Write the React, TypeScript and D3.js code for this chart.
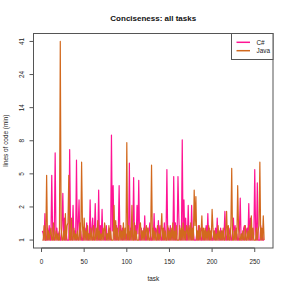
import React from "react";
import * as d3 from "d3";

const title = "Conciseness: all tasks";
const xLabel = "task";
const yLabel = "lines of code (min)";
const seriesNames = ["C#", "Java"];
const seriesColors = ["#ff1493", "#d2691e"];
const xTicks = [0, 50, 100, 150, 200, 250];
const yTickLabels = ["1", "2", "5", "8", "14", "24", "41"];

const csharp = [
  1.3, 1.2, 1, 2.0, 1, 1, 1.4, 1, 1.5, 1,
  1, 4.4, 1.3, 1, 1.2, 6.6, 1, 1.4, 1, 1.2,
  1.3, 1, 1, 1.5, 3.1, 1, 1.8, 1, 1.2, 1,
  1, 1, 7, 1.5, 1, 1.2, 2.4, 1, 1.3, 1,
  5.8, 1, 1.5, 2.7, 1, 1.3, 1, 1, 1.2, 1,
  1.4, 1, 1.6, 1, 1.2, 1, 2.7, 1, 1.3, 1.8,
  1, 1.3, 2.5, 1, 1.2, 1, 3.3, 1, 1.5, 1,
  2.2, 1, 1.3, 1, 1, 1.5, 1, 1.2, 1, 1.4,
  1, 9, 1.3, 3.6, 1, 1.2, 1, 1.5, 1, 1.3,
  3.6, 1, 1.5, 1, 1.4, 1, 1.3, 1, 1.2, 1,
  1.3, 1, 5.5, 1, 1.4, 1, 1.2, 4.2, 1, 1.5,
  1, 2.4, 1.2, 4, 1, 1, 1.4, 1, 1.3, 1,
  1.9, 1, 1, 1.4, 1, 1.3, 1.6, 1, 1, 1.2,
  1, 2.0, 1, 1.4, 1.3, 1, 1.7, 1, 1.5, 1,
  1, 1.3, 1, 1.6, 1, 1.2, 4.9, 1, 1.4, 1,
  1.5, 1, 1.3, 1, 4.3, 1, 1.6, 1, 1.2, 4.3,
  1.8, 1, 1.3, 1, 8.3, 1, 2.7, 1, 1.8, 1,
  1, 2.4, 1, 1.4, 1, 2.4, 1, 1.3, 1, 1,
  1, 1.2, 1, 1.5, 1, 1.4, 1, 1, 1.3, 1,
  1.3, 1, 1.5, 1, 2.0, 1, 1.4, 1, 1.2, 1,
  1, 1.3, 1, 1.4, 1, 1.8, 1, 1.2, 1, 1.4,
  1, 1.3, 1, 1.2, 2.1, 1, 1, 1.4, 1, 1.2,
  1.4, 1, 1, 1.3, 1.8, 1, 1.5, 1, 1.2, 1,
  1, 1.3, 2.8, 1, 1.2, 1, 1.4, 1.5, 1, 1.3,
  1.4, 1, 2.5, 1, 1.8, 1, 1.3, 1, 1.2, 4.9,
  1.3, 1, 3.8, 1, 1, 1, 1.5, 1, 1.3, 1, 1,
];

const java = [
  1, 1, 1.5, 1, 1, 4.4, 1, 1.3, 1, 1.2,
  1.4, 1, 1, 1.6, 1, 1, 1.3, 1, 1.2, 1,
  1, 41, 1.4, 1, 1, 1.3, 1, 2.0, 1, 1.5,
  1.6, 4.4, 1, 1, 1.8, 1, 1, 1.4, 1, 1.2,
  1, 1.3, 1, 1, 1.6, 1, 5.6, 1.5, 1, 1.8,
  1, 1.3, 1, 1.5, 1, 1.2, 1, 1.4, 1, 1,
  1.5, 1, 1, 1.4, 1, 1.7, 1, 1.3, 1, 1.2,
  1, 1.4, 1, 1.6, 1.3, 1, 1.2, 1, 1.5, 1,
  1.3, 1, 1, 1, 2.4, 1, 1.7, 1, 1.4, 1,
  1, 1.5, 1, 1.3, 1, 1.6, 1, 1.4, 1, 7.9,
  1, 1.5, 1, 1.3, 1, 2.4, 1, 1, 1.6, 1,
  1.3, 1, 1, 1, 1.5, 1.6, 1, 1.3, 1, 1.4,
  1, 1.3, 1.5, 1, 1.4, 1, 1, 1.2, 5.3, 1,
  1.4, 1, 1.3, 1, 1, 1.5, 1, 1.2, 1, 1.3,
  2.0, 1, 1.4, 1, 1.3, 1, 1, 1.5, 1, 1.3,
  1, 1.4, 1, 1.6, 1, 1.3, 1, 1.5, 1, 1,
  1, 1.5, 1, 1.4, 1, 1.6, 1, 1.3, 1, 1.5,
  1.3, 1, 1.5, 1, 1.6, 1, 1.4, 1, 3.3, 1.5,
  2.9, 1, 1.3, 1, 1.5, 1, 1.2, 1.9, 1, 1.4,
  1, 1.4, 1, 1.3, 1, 1.5, 1, 1.3, 1, 2.2,
  1.4, 1, 1.3, 1, 1.2, 1, 1.5, 1, 1.3, 1,
  1.3, 1, 1.4, 1, 1, 1.3, 2.1, 1, 1.5, 1,
  1, 1.5, 5.0, 1, 1, 1.3, 1, 1.4, 1, 3.6,
  1.4, 1, 1, 1.2, 1, 1.3, 1, 1, 1.5, 1,
  1, 1.3, 1, 1.5, 1, 1.9, 1, 1.4, 1, 1,
  1, 1.4, 1, 1.3, 1.5, 5.6, 1, 1.4, 1, 1.9, 1,
];

const series = [csharp, java];

export default function App() {
  const W = 291, H = 291;
  const left = 33.5, right = 273, top = 33.5, bottom = 248;
  const n = csharp.length;
  const xPad = (n - 1) * 0.04;
  const x = d3.scaleLinear().domain([1 - xPad, n + xPad]).range([left, right]);
  const t = (v: number) => Math.log(v + 1);
  const lo = t(1), hi = t(41);
  const yPad = (hi - lo) * 0.04;
  const y = d3.scaleLinear().domain([lo - yPad, hi + yPad]).range([bottom, top]);
  const yTickPos = yTickLabels.map((_, i) => lo + (i * (hi - lo)) / (yTickLabels.length - 1));
  const line = d3.line<number>().x((_, i) => x(i + 1)).y((v) => y(t(v)));
  const font = "'Liberation Sans', Arial, Helvetica, sans-serif";
  const axisCol = "#555";
  const textCol = "#222";
  const fs = 6.4;
  return (
    <svg width={W} height={H} style={{ position: "absolute", left: 0, top: 0, background: "#fff" }} fontFamily={font}>
      <rect x={0} y={0} width={W} height={H} fill="#fff" />
      <text x={(left + right) / 2} y={20.5} textAnchor="middle" fontSize={8} fontWeight="bold" fill="#111">{title}</text>
      {series.map((s, k) => (
        <path key={k} d={line(s) || ""} fill="none" stroke={seriesColors[k]} strokeWidth={1.2} strokeLinejoin="round" />
      ))}
      <rect x={left} y={top} width={right - left} height={bottom - top} fill="none" stroke={axisCol} strokeWidth={1} />
      {/* x axis */}
      <line x1={x(xTicks[0])} x2={x(xTicks[xTicks.length - 1])} y1={bottom} y2={bottom} stroke={axisCol} />
      {xTicks.map((v) => (
        <g key={v}>
          <line x1={x(v)} x2={x(v)} y1={bottom} y2={bottom + 4} stroke={axisCol} />
          <text x={x(v)} y={264} textAnchor="middle" fontSize={fs} fill={textCol}>{v}</text>
        </g>
      ))}
      <text x={(left + right) / 2} y={281} textAnchor="middle" fontSize={fs} fill={textCol}>{xLabel}</text>
      {/* y axis */}
      {yTickPos.map((p, i) => (
        <g key={i}>
          <line x1={left - 4} x2={left} y1={y(p)} y2={y(p)} stroke={axisCol} />
          <text transform={`translate(${23.5},${y(p)}) rotate(-90)`} textAnchor="middle" fontSize={fs} fill={textCol}>{yTickLabels[i]}</text>
        </g>
      ))}
      <text transform={`translate(${7.5},${(top + bottom) / 2}) rotate(-90)`} textAnchor="middle" fontSize={fs} fill={textCol}>{yLabel}</text>
      {/* legend */}
      <rect x={231.5} y={top} width={right - 231.5} height={26} fill="#fff" stroke={axisCol} strokeWidth={1} />
      {seriesNames.map((name, k) => (
        <g key={name}>
          <line x1={236.5} x2={250} y1={42.3 + k * 8.4} y2={42.3 + k * 8.4} stroke={seriesColors[k]} strokeWidth={1.5} />
          <text x={256.5} y={44.5 + k * 8.4} fontSize={fs} fill={textCol}>{name}</text>
        </g>
      ))}
    </svg>
  );
}
